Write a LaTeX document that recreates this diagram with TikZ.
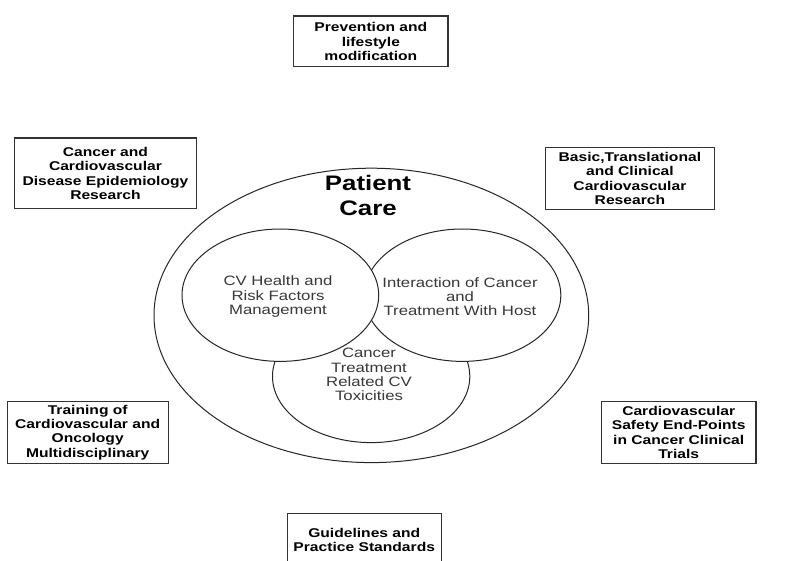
\documentclass[tikz,border=0pt]{standalone}
\usepackage{fontspec}
\setmainfont{Liberation Sans}[FakeStretch=1.23]
\usetikzlibrary{shapes.geometric}
\tikzset{
  box/.style={draw=black!80, line width=1.2pt, fill=white, rectangle, inner sep=0pt,
    align=center, font=\fontsize{12.7}{14.3}\selectfont\bfseries, text=black},
  ring/.style={draw=black!85, line width=1pt, fill=white, ellipse, inner sep=0pt},
  intext/.style={align=center, font=\fontsize{13.6}{14.2}\selectfont, text=black!78, inner sep=0pt},
  titletext/.style={align=center, font=\fontsize{21}{24.4}\selectfont\bfseries, text=black, inner sep=0pt},
}
\begin{document}
\begin{tikzpicture}[x=1pt,y=-1pt]
\useasboundingbox (0,0) rectangle (797,561);
\clip (0,0) rectangle (797,561);
\fill[white] (0,0) rectangle (797,561);

% outer ellipse and inner circles
\node[ring, minimum width=434.7pt, minimum height=294.4pt] (outer) at (371.35,315.4) {};
\node[ring, minimum width=197.3pt, minimum height=132.4pt] (bottomc) at (371.15,376.4) {};
\node[ring, minimum width=196.6pt, minimum height=132.4pt] (rightc) at (462.5,295.2) {};
\node[ring, minimum width=196.7pt, minimum height=132.4pt] (leftc) at (280.35,295.2) {};

% texts inside
\node[titletext] (title) at (368,195.5) {Patient\\Care};
\node[intext] (cvh) at (278,296.5) {CV Health and\\Risk Factors\\Management};
\node[intext] (inter) at (460,296.5) {Interaction of Cancer\\and\\Treatment With Host};
\node[intext] (tox) at (369,374.5) {Cancer\\Treatment\\Related CV\\Toxicities};

% outer boxes
\node[box, minimum width=154.1pt, minimum height=50.8pt] (prev) at (370.85,41.5) {Prevention and\\lifestyle\\modification};
\node[box, minimum width=182.5pt, minimum height=70.8pt] (epi) at (105.45,173.5) {Cancer and\\Cardiovascular\\Disease Epidemiology\\Research};
\node[box, minimum width=168.8pt, minimum height=61.5pt] (basic) at (629.9,178.55) {Basic,Translational\\and Clinical\\Cardiovascular\\Research};
\node[box, minimum width=161.2pt, minimum height=61.5pt] (train) at (87.7,432.55) {Training of\\Cardiovascular and\\Oncology\\Multidisciplinary};
\node[box, minimum width=154.6pt, minimum height=61.5pt] (safety) at (678.7,432.55) {Cardiovascular\\Safety End-Points\\in Cancer Clinical\\Trials};
\node[box, minimum width=154.1pt, minimum height=53.5pt] (guide) at (364.25,540.15) {Guidelines and\\Practice Standards};
\end{tikzpicture}
\end{document}
